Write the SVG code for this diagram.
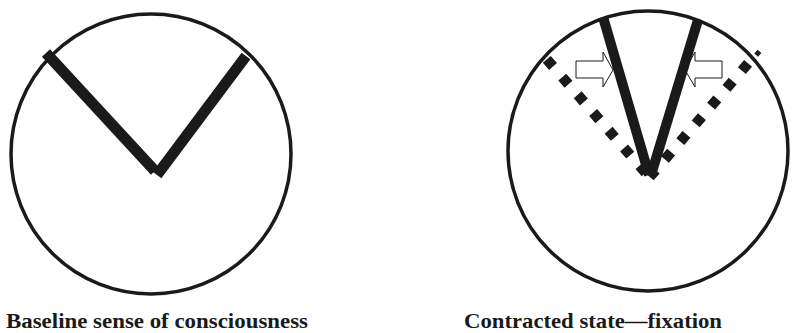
<svg xmlns="http://www.w3.org/2000/svg" width="792" height="333" viewBox="0 0 792 333">
<style>
.ring{fill:none;stroke:#1a1a1a;stroke-width:3.5}
.arm{stroke:#1a1a1a;stroke-width:11;stroke-linecap:butt}
.arm2{stroke:#1a1a1a;stroke-width:10;stroke-linecap:butt}
.dots{fill:none;stroke:#1a1a1a;stroke-width:10.5;stroke-dasharray:9.5 14;stroke-linecap:butt}
.blk{fill:#fff;stroke:#1a1a1a;stroke-width:1}
.lbl{font-family:"Liberation Serif","Times New Roman",serif;font-weight:bold;font-size:21.5px;fill:#1a1a1a}
</style>
<rect width="792" height="333" fill="#fff"/>
<g id="baseline">
<circle class="ring" cx="151" cy="154" r="140"/>
<g id="baseline-connectors">
<line class="arm" x1="46" y1="53" x2="155" y2="171"/>
<line class="arm" x1="157" y1="175" x2="246" y2="56"/>
</g>
<text class="lbl" x="6" y="328" textLength="302" lengthAdjust="spacingAndGlyphs">Baseline sense of consciousness</text>
</g>
<g id="contracted">
<circle class="ring" cx="648" cy="151" r="140"/>
<g id="contracted-connectors">
<path class="dots" d="M546.8,59.4 L645.6,172.7"/>
<path class="dots" d="M748.1,63.4 L649.7,176.9"/>
<line x1="759.5" y1="51.3" x2="756.2" y2="55.1" stroke="#1a1a1a" stroke-width="5"/>
<polygon class="blk" points="576,61 603,61 603,52 613,70 603,87 603,78 576,78"/>
<polygon class="blk" points="722,61 695,61 695,52 685,70 695,87 695,78 722,78"/>
<line class="arm2" x1="603" y1="17" x2="649" y2="175"/>
<line class="arm2" x1="698" y1="20" x2="651" y2="175"/>
</g>
<text class="lbl" x="464" y="328" textLength="258" lengthAdjust="spacingAndGlyphs">Contracted state—fixation</text>
</g>
</svg>
